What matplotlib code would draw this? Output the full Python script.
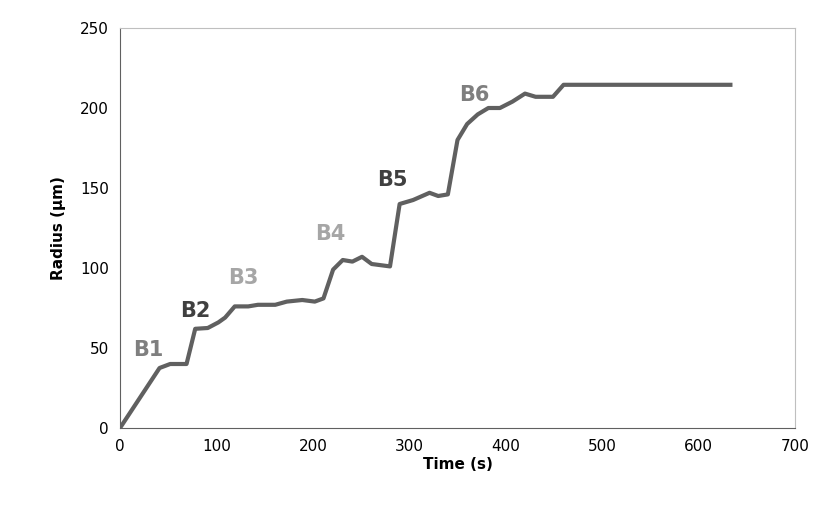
import matplotlib.pyplot as plt

time_s = [0, 41, 52, 69, 78, 91, 102, 109, 119, 133, 143, 161, 173, 189, 202, 211, 221, 231, 241,
          251, 261, 280, 290, 304, 321, 330, 340, 350, 360, 371, 382, 394, 407, 420, 431, 449,
          460, 633]
radius_um = [0, 37.5, 40, 40, 62, 62.5, 66, 69, 76, 76, 77, 77, 79, 80, 79, 81, 99, 105, 104,
             107, 102.5, 101, 140, 142.5, 147, 145, 146, 180, 190, 196, 200, 200, 204, 209, 207, 207,
             214.5, 214.5]

labels = ["B1", "B2", "B3", "B4", "B5", "B6"]
label_t = [29, 78, 128, 218, 282, 367]
label_r = [49, 73, 94, 121, 155, 208]
label_colors = ["#7f7f7f", "#404040", "#a6a6a6", "#a6a6a6", "#404040", "#7f7f7f"]

fig = plt.figure(figsize=(8.21, 5.14), dpi=100)
ax = fig.add_axes([120 / 821, 1 - 428 / 514, 675 / 821, 400 / 514])
ax.plot(time_s, radius_um, color="#606060", linewidth=3)

for lab, t, r, c in zip(labels, label_t, label_r, label_colors):
    ax.text(t, r, lab, color=c, fontsize=15, fontweight="bold", ha="center", va="center")

ax.set_xlim(0, 700)
ax.set_ylim(0, 250)
ax.set_xticks(range(0, 701, 100))
ax.set_yticks(range(0, 251, 50))
ax.tick_params(labelsize=11, length=0, pad=8)
ax.set_xlabel("Time (s)", fontsize=11, fontweight="bold", labelpad=2)
ax.set_ylabel("Radius (µm)", fontsize=11, fontweight="bold", labelpad=10)
for s in ax.spines.values():
    s.set_color("#bfbfbf")
ax.spines["left"].set_color("#606060")
ax.spines["bottom"].set_color("#606060")

fig.savefig("out.png", dpi=100)
